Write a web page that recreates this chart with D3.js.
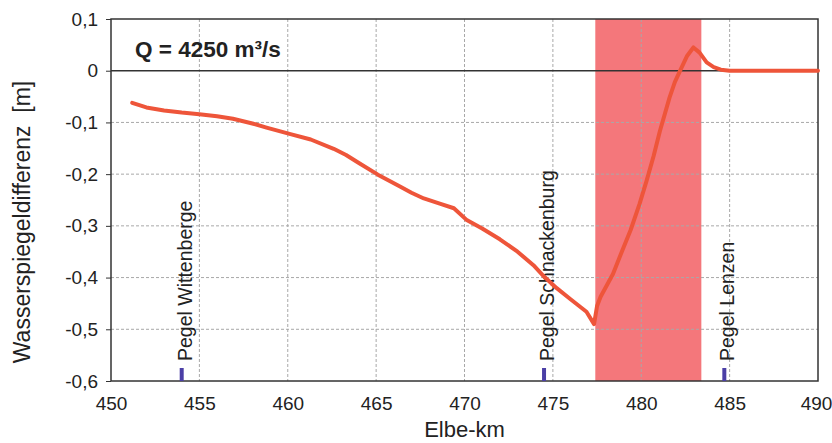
<!DOCTYPE html>
<html>
<head>
<meta charset="utf-8">
<script src="https://cdn.jsdelivr.net/npm/d3@7"></script>
<style>
  body { margin: 0; background: #fff; }
  svg { font-family: "Liberation Sans", Arial, sans-serif; }
</style>
</head>
<body>
<div id="chart"></div>
<script>
// Elbe-km positions and water level difference [m]
const km = [451.2, 452.0, 453.0, 454.0, 455.0, 456.0, 456.9, 458.0, 458.8, 460.1,
  461.3, 462.6, 463.3, 464.0, 465.1, 466.35, 467.0, 467.7, 468.6, 469.4,
  470.1, 471.0, 472.0, 473.0, 473.9, 474.5, 475.2, 476.0, 476.9, 477.33,
  477.5, 477.7, 478.4, 478.9, 479.4, 479.9, 480.3, 480.7, 481.06, 481.6,
  481.9, 482.2, 482.6, 482.95, 483.3, 483.7, 484.1, 484.5, 485.0, 490.0]
const diff = [-0.062, -0.071, -0.077, -0.081, -0.084, -0.088, -0.093, -0.102, -0.110, -0.122,
  -0.133, -0.151, -0.163, -0.178, -0.201, -0.224, -0.236, -0.247, -0.257, -0.266,
  -0.288, -0.305, -0.326, -0.350, -0.376, -0.398, -0.420, -0.442, -0.466, -0.490,
  -0.455, -0.437, -0.393, -0.350, -0.308, -0.258, -0.213, -0.165, -0.116, -0.052,
  -0.022, 0.000, 0.029, 0.045, 0.035, 0.016, 0.007, 0.002, 0.000, 0.000]

const band = [477.4, 483.4]
const gaugeNames = ['Pegel Wittenberge', 'Pegel Schnackenburg', 'Pegel Lenzen']
const gaugeKm = [454.0, 474.5, 484.7]

const xTicks = [450, 455, 460, 465, 470, 475, 480, 485, 490]
const yTicks = [0.1, 0, -0.1, -0.2, -0.3, -0.4, -0.5, -0.6]

const width = 832, height = 443
const margin = {top: 19, right: 14, bottom: 62, left: 111}

const svg = d3.select('#chart').append('svg')
  .attr('width', width)
  .attr('height', height)

const x = d3.scaleLinear().domain([450, 490]).range([margin.left, width - margin.right])
const y = d3.scaleLinear().domain([-0.6, 0.1]).range([height - margin.bottom, margin.top])

const fmt = v => d3.format('.1f')(v).replace('.', ',').replace('−', '-').replace(/^-?0,0$/, '0')

// band
svg.append('rect')
  .attr('x', x(band[0]))
  .attr('y', y(0.1))
  .attr('width', x(band[1]) - x(band[0]))
  .attr('height', y(-0.6) - y(0.1))
  .attr('fill', '#f4777b')

// grid
svg.append('g').selectAll('line').data(xTicks.slice(1, -1)).join('line')
  .attr('x1', d => x(d)).attr('x2', d => x(d))
  .attr('y1', y(0.1)).attr('y2', y(-0.6))
  .attr('stroke', '#a8a8a8').attr('stroke-width', 1).attr('stroke-dasharray', '3,2')
svg.append('g').selectAll('line').data(yTicks.filter(d => d !== 0 && d !== 0.1 && d !== -0.6)).join('line')
  .attr('x1', x(450)).attr('x2', x(490))
  .attr('y1', d => y(d)).attr('y2', d => y(d))
  .attr('stroke', '#a8a8a8').attr('stroke-width', 1).attr('stroke-dasharray', '3,2')

// zero line
svg.append('line')
  .attr('x1', x(450)).attr('x2', x(490))
  .attr('y1', y(0)).attr('y2', y(0))
  .attr('stroke', '#333').attr('stroke-width', 1.5)

// axes
const yAxis = d3.axisLeft(y).tickValues(yTicks).tickSize(5).tickPadding(8).tickFormat(fmt)
const xAxis = d3.axisBottom(x).tickValues(xTicks).tickSize(0).tickPadding(16).tickFormat(d3.format('d'))

const gy = svg.append('g').attr('transform', `translate(${margin.left},0)`).call(yAxis)
const gx = svg.append('g').attr('transform', `translate(0,${height - margin.bottom})`).call(xAxis)
for (const g of [gx, gy]) {
  g.select('.domain').remove()
  g.selectAll('text').attr('font-size', 19).attr('fill', '#222').attr('font-family', '"Liberation Sans", Arial, sans-serif')
  g.selectAll('line').attr('stroke', '#333')
}
// keep the last label inside the window
gx.selectAll('text').filter(d => d === 490).attr('dx', -2)

// frame
svg.append('rect')
  .attr('x', x(450)).attr('y', y(0.1))
  .attr('width', x(490) - x(450)).attr('height', y(-0.6) - y(0.1))
  .attr('fill', 'none').attr('stroke', '#333').attr('stroke-width', 1.5)

// gauges
svg.append('g').selectAll('line').data(gaugeKm).join('line')
  .attr('x1', d => x(d)).attr('x2', d => x(d))
  .attr('y1', y(-0.6) - 13).attr('y2', y(-0.6))
  .attr('stroke', '#4b3fa6').attr('stroke-width', 4)
svg.append('g').selectAll('text').data(gaugeKm).join('text')
  .attr('transform', d => `translate(${x(d) + 10},${y(-0.6) - 20}) rotate(-90)`)
  .attr('font-size', 19.5)
  .attr('fill', '#222')
  .text((d, i) => gaugeNames[i])

// curve
const line = d3.line().x((d, i) => x(km[i])).y(d => y(d))
svg.append('path')
  .datum(diff)
  .attr('d', line)
  .attr('fill', 'none')
  .attr('stroke', '#ee553a')
  .attr('stroke-width', 4)
  .attr('stroke-linejoin', 'round')
  .attr('stroke-linecap', 'round')

// discharge label
svg.append('text')
  .attr('x', 135).attr('y', 57)
  .attr('font-size', 22.5).attr('font-weight', 'bold').attr('fill', '#222')
  .text('Q = 4250 m³/s')

// axis titles
svg.append('text')
  .attr('x', x(470)).attr('y', 437)
  .attr('text-anchor', 'middle')
  .attr('font-size', 22).attr('fill', '#222')
  .text('Elbe-km')
svg.append('text')
  .attr('transform', `translate(30,${(y(0.1) + y(-0.6)) / 2 + 22}) rotate(-90)`)
  .attr('text-anchor', 'middle')
  .attr('font-size', 23).attr('fill', '#222')
  .attr('xml:space', 'preserve')
  .style('white-space', 'pre')
  .text('Wasserspiegeldifferenz  [m]')
</script>
</body>
</html>
